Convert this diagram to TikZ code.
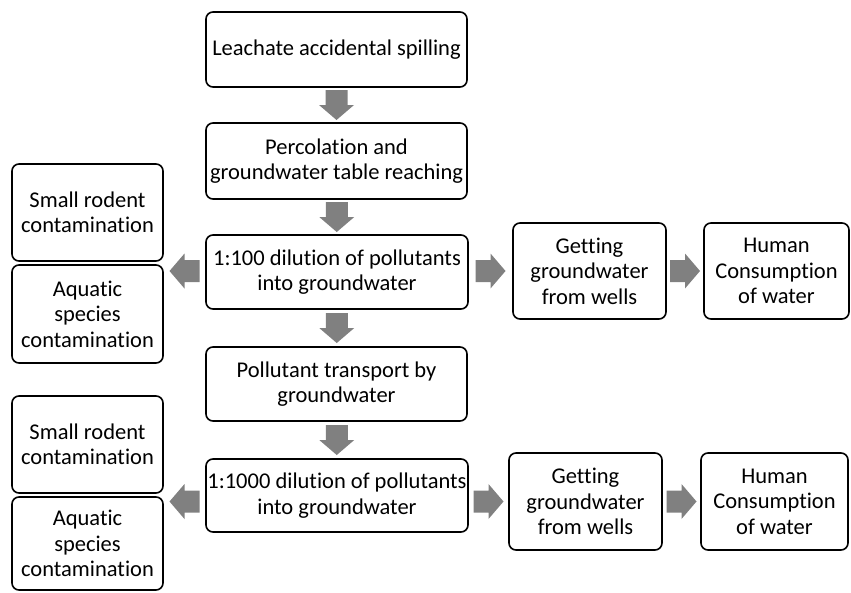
\documentclass[tikz,border=0pt]{standalone}
\usepackage{fontspec}
\setmainfont{Carlito}[Ligatures=NoCommon]
\usetikzlibrary{calc}
\definecolor{arrowgray}{RGB}{128,128,128}
\tikzset{
  box/.style={draw=black, line width=1.6pt, rounded corners=7pt, fill=white,
    align=center, inner sep=0pt, font=\fontsize{22.5}{25.5}\selectfont},
  % block arrow pointing along +x, centred on the pic origin
  pics/blockarrow/.style={code={
    \fill[arrowgray] (-15,-11) -- (0,-11) -- (0,-17.5) -- (15,0)
      -- (0,17.5) -- (0,11) -- (-15,11) -- cycle;}}
}
\begin{document}
\begin{tikzpicture}[x=1pt,y=-1pt]
\useasboundingbox (0,0) rectangle (851,592);

% main column
\node[box, minimum width=261pt, minimum height=75pt] (L1) at (336.5,49.5) {Leachate accidental spilling};
\node[box, minimum width=261pt, minimum height=76pt] (L2) at (336.5,161) {Percolation and\\groundwater table reaching};
\node[box, minimum width=262pt, minimum height=74pt] (L3) at (337,272) {1:100 dilution of pollutants\\into groundwater};
\node[box, minimum width=261pt, minimum height=74pt] (L4) at (336.5,384) {Pollutant transport by\\groundwater};
\node[box, minimum width=262pt, minimum height=73pt] (L5) at (337,495.5) {1:1000 dilution of pollutants\\into groundwater};

% left column
\node[box, minimum width=151pt, minimum height=97pt] (R1) at (87.5,212.5) {Small rodent\\contamination};
\node[box, minimum width=151pt, minimum height=98pt] (A1) at (87.5,314) {Aquatic\\species\\contamination};
\node[box, minimum width=151pt, minimum height=97pt] (R2) at (87.5,444.5) {Small rodent\\contamination};
\node[box, minimum width=151pt, minimum height=93pt] (A2) at (87.5,543.5) {Aquatic\\species\\contamination};

% right chains
\node[box, minimum width=153pt, minimum height=96pt] (G1) at (589.5,271) {Getting\\groundwater\\from wells};
\node[box, minimum width=145pt, minimum height=96pt] (H1) at (776.5,271) {Human\\Consumption\\of water};
\node[box, minimum width=153pt, minimum height=97pt] (G2) at (585.5,501.5) {Getting\\groundwater\\from wells};
\node[box, minimum width=147pt, minimum height=97pt] (H2) at (774.5,501.5) {Human\\Consumption\\of water};

% downward arrows along the main column
\pic[rotate=-90] at ($(L1.south)!0.5!(L2.north)$) {blockarrow};
\pic[rotate=-90] at ($(L2.south)!0.5!(L3.north)$) {blockarrow};
\pic[rotate=-90] at ($(L3.south)!0.5!(L4.north)$) {blockarrow};
\pic[rotate=-90] at ($(L4.south)!0.5!(L5.north)$) {blockarrow};

% sideways arrows
\coordinate (m1) at ($(L3.west)!0.5!(R1.east)$);
\coordinate (m2) at ($(L5.west)!0.5!(R2.east)$);
\pic[rotate=180] at (m1 |- G1) {blockarrow};
\pic[rotate=180] at (m2 |- G2) {blockarrow};

\coordinate (m3) at ($(L3.east)!0.5!(G1.west)$);
\coordinate (m4) at ($(G1.east)!0.5!(H1.west)$);
\coordinate (m5) at ($(L5.east)!0.5!(G2.west)$);
\coordinate (m6) at ($(G2.east)!0.5!(H2.west)$);
\pic at (m3 |- G1) {blockarrow};
\pic at (m4) {blockarrow};
\pic at (m5 |- G2) {blockarrow};
\pic at (m6) {blockarrow};
\end{tikzpicture}
\end{document}
